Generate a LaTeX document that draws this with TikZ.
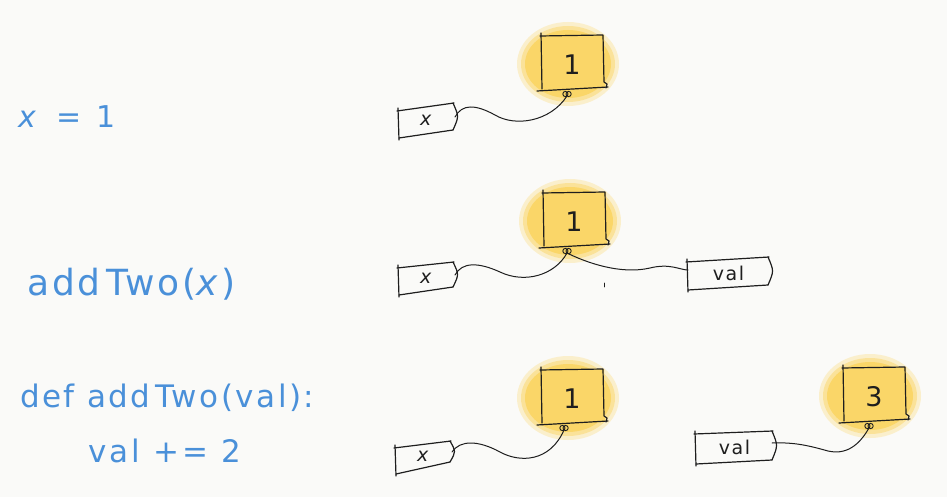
\documentclass[tikz,border=0pt]{standalone}
\usepackage{fontspec}
\setmainfont{DejaVu Sans}
\definecolor{bg}{RGB}{250,250,248}
\definecolor{hand}{RGB}{74,144,217}
\definecolor{glow}{RGB}{250,214,104}
\definecolor{ink}{RGB}{30,30,30}
\tikzset{
  inkline/.style={draw=ink, line width=1.2pt, line cap=round, line join=round},
  wire/.style={draw=ink, line width=1pt, line cap=round},
  code/.style={text=hand, anchor=base west, inner sep=0pt},
  cellval/.style={font=\fontsize{27}{30}\selectfont, text=ink, inner sep=0pt},
  taglbl/.style={font=\fontsize{19}{22}\selectfont\addfontfeature{LetterSpace=8}, text=ink, inner sep=0pt},
}
% memory cell: #1 name, #2 cx, #3 cy, #4 label, #5 loop dx
\newcommand\memcell[5]{%
  \begin{scope}[shift={(#2,#3)}]
    \fill[glow, opacity=0.3] (-4,1) ellipse [x radius=51, y radius=42];
    \fill[glow, opacity=0.5] (-4,1) ellipse [x radius=47, y radius=38];
    \fill[glow] (-4,1) ellipse [x radius=43, y radius=34];
    \fill[glow] (-31,-27) -- (32,-28) -- (33,25) -- (-30,27) -- cycle;
    \draw[inkline] (-31,-30) -- (-30,26);
    \draw[inkline] (-32,-27) -- (31,-28) -- (32,19) -- (35,21) -- (34,25);
    \draw[inkline] (-35,28) -- (36,24);
    \draw[ink, line width=0.9pt] ({#5-1.6},31) circle [radius=2.6] ({#5+1.6},31) circle [radius=2.6];
    \node[cellval] (#1-val) at (0,2) {#4};
    \coordinate (#1) at (#5,33);
  \end{scope}}
% tag: #1 name, #2 xL, #3 yTL, #4 xR, #5 yTR, #6 yBR, #7 yBL, #8 label
\newcommand\handtag[8]{%
  \draw[inkline] (#2,{#3-3}) -- ({#2+1},{#7+2});
  \draw[inkline] ({#2-1},#3) -- ({#4+1},#5);
  \draw[inkline] (#4,#5) .. controls ({#4+6},{(#5+#6)/2}) .. (#4,#6);
  \draw[inkline] (#4,#6) -- ({#2+1},#7);
  \node[taglbl] (#1) at ({(#2+#4)/2+1}, {(#3+#5+#6+#7)/4}) {#8};}
\begin{document}
\begin{tikzpicture}[x=1pt,y=-1pt]
  \fill[bg] (0,0) rectangle (947,497);
  \useasboundingbox (0,0) rectangle (947,497);

  % left code text
  \node[code, font=\fontsize{30}{34}\selectfont\addfontfeature{LetterSpace=18}] (c1) at (18,128) {\textit{x} = 1};
  \node[code, font=\fontsize{36}{40}\selectfont\addfontfeature{LetterSpace=8}] (c2) at (27,295) {add\,Two(\textit{x})};
  \node[code, font=\fontsize{31}{34}\selectfont\addfontfeature{LetterSpace=8}] (c3) at (20,407) {def add\,Two(val):};
  \node[code, font=\fontsize{31}{34}\selectfont\addfontfeature{LetterSpace=10}] (c4) at (88,462) {val += 2};

  % memory cells
  \memcell{m1}{572}{63}{1}{-5}
  \memcell{m2}{574}{220}{1}{-7}
  \memcell{m3}{572}{397}{1}{-8}
  \memcell{m4}{874}{395}{3}{-5}

  % tags
  \handtag{tx1}{398}{111}{453}{103}{130}{138}{\textit{x}}
  \handtag{tx2}{398}{268}{453}{262}{287}{295}{\textit{x}}
  \handtag{tv2}{687}{262}{768}{257}{285}{290}{val}
  \handtag{tx3}{395}{448}{450}{441}{462}{474}{\textit{x}}
  \handtag{tv3}{695}{434}{772}{431}{460}{464}{val}

  % attach points
  \coordinate (a1) at (455,117);
  \coordinate (a2) at (455,275);
  \coordinate (a2v) at (688,270);
  \coordinate (a3) at (452,452);
  \coordinate (a3v) at (772,443);

  % wires
  \draw[wire] (a1) .. controls (462,104) and (475,104) .. (495,115)
              .. controls (515,127) and (550,122) .. (m1);
  \draw[wire] (a2) .. controls (462,262) and (478,262) .. (500,272)
              .. controls (525,284) and (555,275) .. (m2);
  \draw[wire] (m2) .. controls (585,262) and (620,275) .. (650,268)
              .. controls (670,263) and (680,270) .. (a2v);
  \draw[wire] (a3) .. controls (460,440) and (478,440) .. (500,452)
              .. controls (520,463) and (550,462) .. (m3);
  \draw[wire] (a3v) .. controls (795,442) and (810,446) .. (828,451)
              .. controls (850,456) and (862,440) .. (m4);

  % stray pen mark
  \draw[wire, line width=0.8pt] (604,283) -- (604,287);
\end{tikzpicture}
\end{document}
